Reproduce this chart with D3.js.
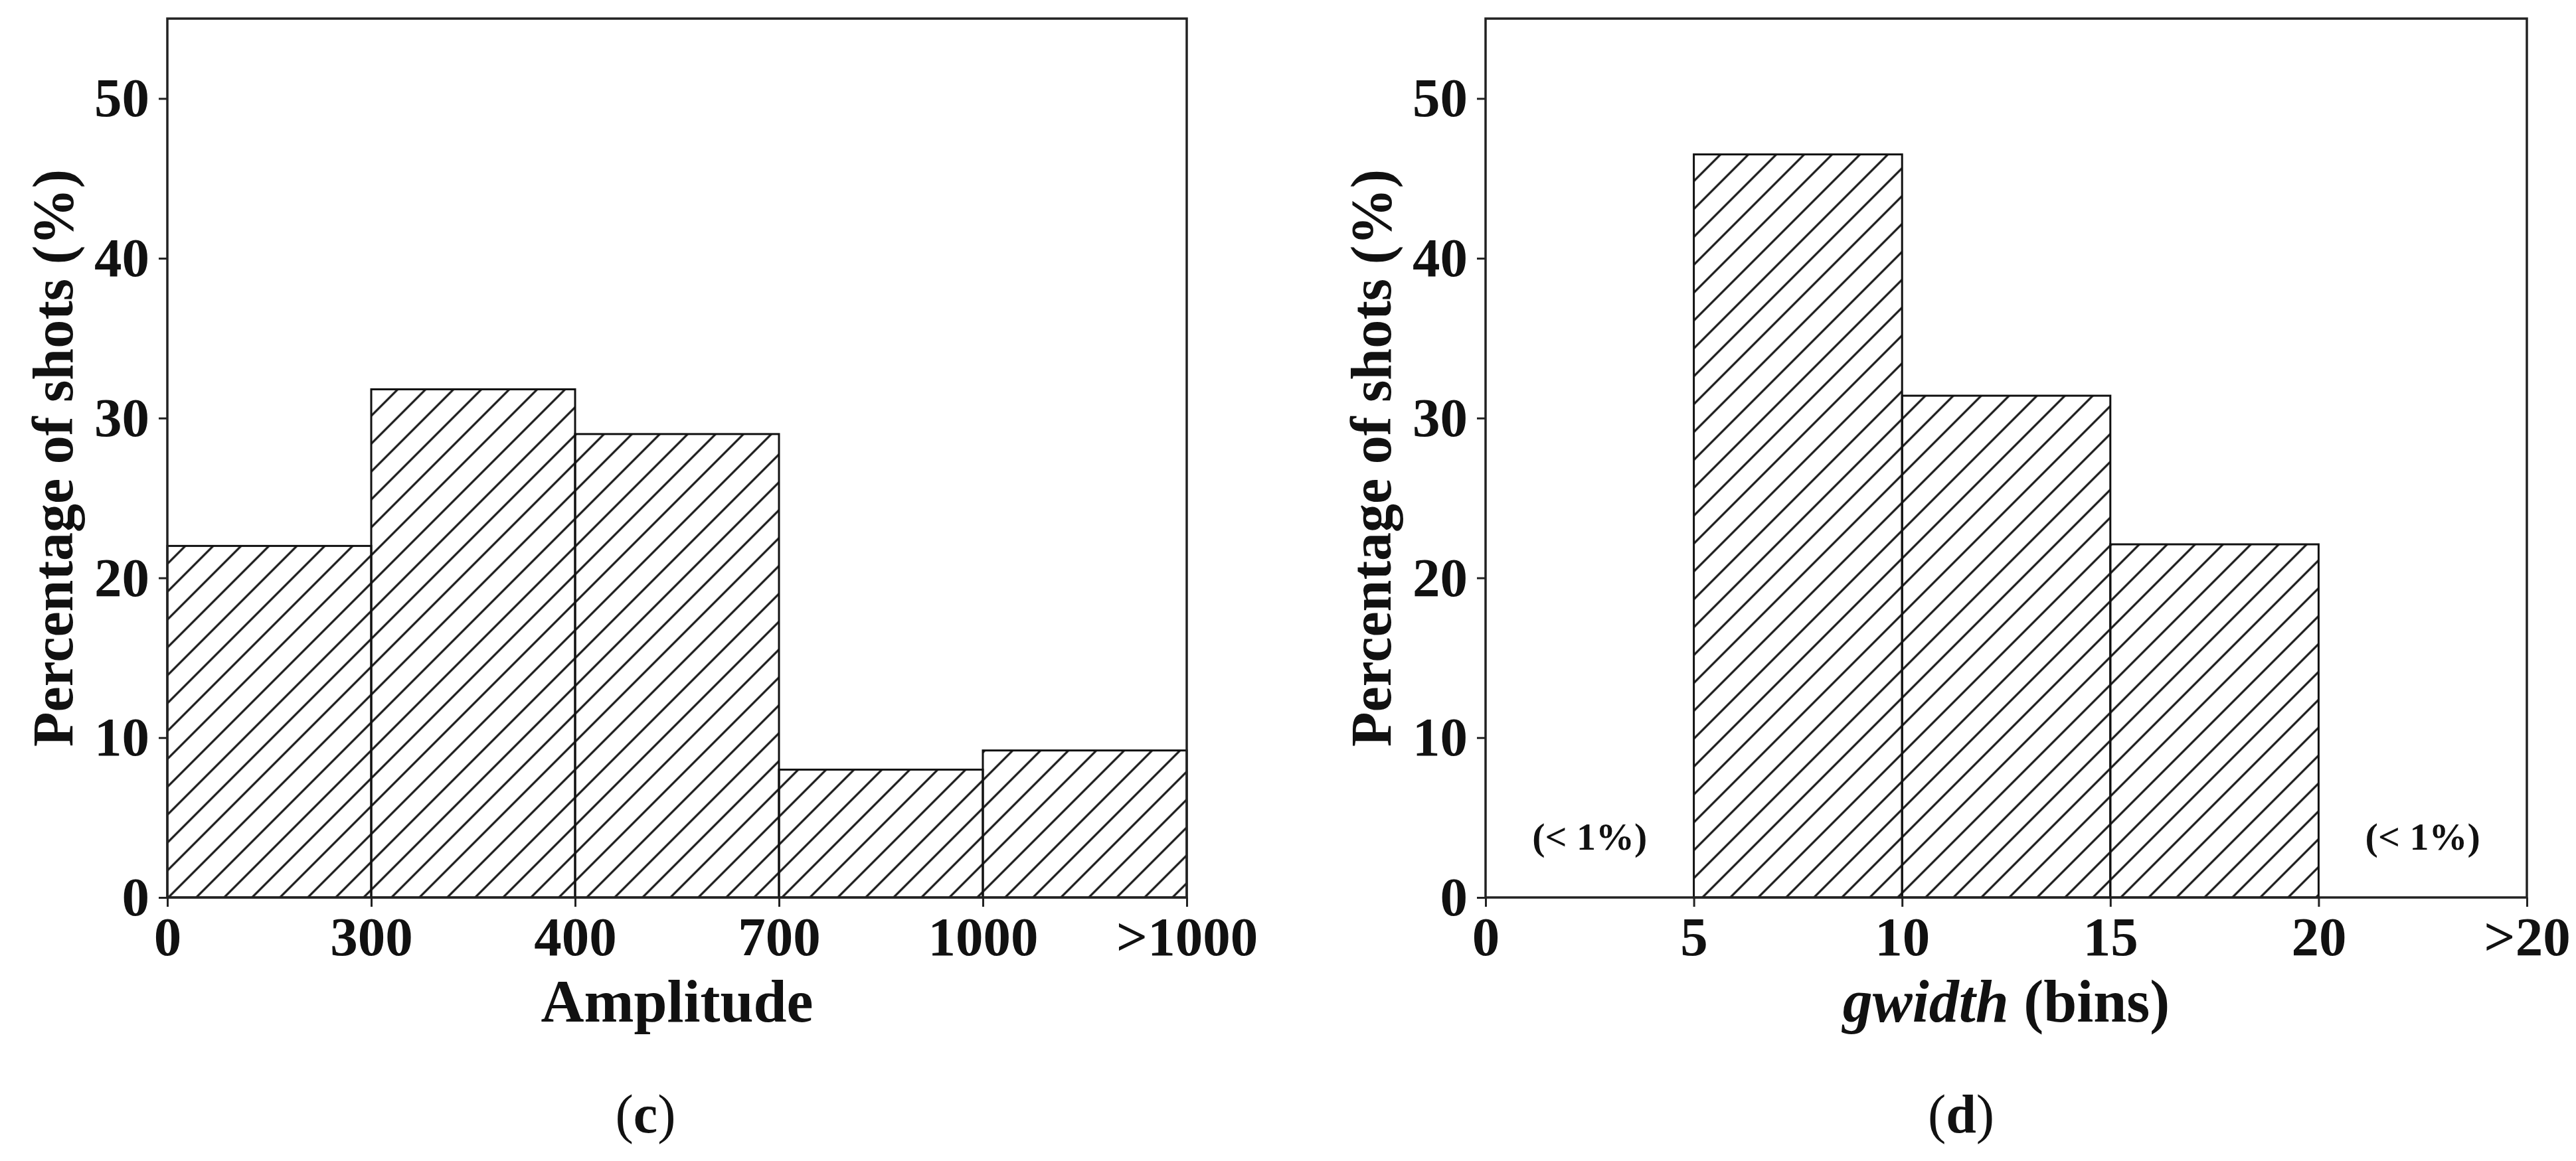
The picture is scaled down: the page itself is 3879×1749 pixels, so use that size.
<!DOCTYPE html>
<html>
<head>
<meta charset="utf-8">
<script src="https://cdn.jsdelivr.net/npm/d3@7"></script>
<style>
  body { margin: 0; background: #fff; }
  svg text { font-family: "Liberation Serif", "Times New Roman", serif; fill: #111; }
</style>
</head>
<body>
<svg id="chart"></svg>
<script>
// panel (c): amplitude histogram
const ampLabels = ['0', '300', '400', '700', '1000', '>1000'];
const ampValues = [22.0, 31.8, 29.0, 8.0, 9.2];

// panel (d): gwidth histogram
const gwLabels = ['0', '5', '10', '15', '20', '>20'];
const gwValues = [0, 46.5, 31.4, 22.1, 0];
const gwNotes = ['(< 1%)', null, null, null, '(< 1%)'];

const yTicks = [0, 10, 20, 30, 40, 50];
const yMax = 55;

const W = 3879, H = 1749;
const svg = d3.select('#chart')
  .attr('width', W)
  .attr('height', H)
  .attr('viewBox', `0 0 ${W} ${H}`);

svg.append('rect').attr('width', W).attr('height', H).attr('fill', '#fff');

// matplotlib style '/' hatch, fixed in page space
const pat = svg.append('defs').append('pattern')
  .attr('id', 'hatch')
  .attr('patternUnits', 'userSpaceOnUse')
  .attr('x', 9.5)
  .attr('width', 42)
  .attr('height', 42);
pat.append('path')
  .attr('d', 'M-10,10 L10,-10 M0,42 L42,0 M32,52 L52,32')
  .attr('stroke', '#1a1a1a')
  .attr('stroke-width', 3.2);

const plotTop = 28, plotBottom = 1352;

function drawPanel(opts) {
  const { x0, x1, labels, values, notes, ylabelX, tag, tagX } = opts;
  const g = svg.append('g');

  const x = d3.scaleLinear().domain([0, labels.length - 1]).range([x0, x1]);
  const y = d3.scaleLinear().domain([0, yMax]).range([plotBottom, plotTop]);

  g.selectAll('rect.bar')
    .data(values)
    .join('rect')
    .attr('class', 'bar')
    .attr('x', (d, i) => x(i))
    .attr('width', (d, i) => x(i + 1) - x(i))
    .attr('y', d => y(d))
    .attr('height', d => y(0) - y(d))
    .attr('fill', 'url(#hatch)')
    .attr('stroke', '#111')
    .attr('stroke-width', 3);

  if (notes) {
    g.selectAll('text.note')
      .data(notes.map((n, i) => ({ n, i })).filter(d => d.n))
      .join('text')
      .attr('class', 'note')
      .attr('x', d => x(d.i + 0.5))
      .attr('y', 1280)
      .attr('text-anchor', 'middle')
      .attr('font-size', 58)
      .attr('font-weight', 'bold')
      .text(d => d.n);
  }

  // frame
  g.append('rect')
    .attr('x', x0).attr('y', plotTop)
    .attr('width', x1 - x0).attr('height', plotBottom - plotTop)
    .attr('fill', 'none')
    .attr('stroke', '#222')
    .attr('stroke-width', 3.5);

  const yAxis = g.append('g')
    .attr('transform', `translate(${x0},0)`)
    .call(d3.axisLeft(y).tickValues(yTicks).tickSize(13).tickPadding(14));
  const xAxis = g.append('g')
    .attr('transform', `translate(0,${plotBottom})`)
    .call(d3.axisBottom(x).tickValues(d3.range(labels.length))
      .tickFormat(i => labels[i]).tickSize(14).tickPadding(14));

  [yAxis, xAxis].forEach(a => {
    a.select('.domain').remove();
    a.selectAll('line').attr('stroke', '#222').attr('stroke-width', 3);
    a.selectAll('text')
      .attr('font-size', 83)
      .attr('font-weight', 'bold')
      .attr('fill', '#111');
  });

  g.append('text')
    .attr('transform', `translate(${ylabelX},${(plotTop + plotBottom) / 2}) rotate(-90)`)
    .attr('text-anchor', 'middle')
    .attr('dominant-baseline', 'central')
    .attr('font-size', 86)
    .attr('font-weight', 'bold')
    .text('Percentage of shots (%)');

  const xl = g.append('text')
    .attr('x', (x0 + x1) / 2)
    .attr('y', 1539)
    .attr('text-anchor', 'middle')
    .attr('font-size', 90)
    .attr('font-weight', 'bold');
  opts.xlabel(xl);

  const t = g.append('text')
    .attr('x', tagX)
    .attr('y', 1706)
    .attr('text-anchor', 'middle')
    .attr('font-size', 82);
  t.append('tspan').text('(');
  t.append('tspan').attr('font-weight', 'bold').text(tag);
  t.append('tspan').text(')');
}

drawPanel({
  x0: 252, x1: 1787,
  labels: ampLabels, values: ampValues,
  ylabelX: 80, tag: 'c', tagX: 972,
  xlabel: t => t.text('Amplitude')
});

drawPanel({
  x0: 2237, x1: 3805,
  labels: gwLabels, values: gwValues, notes: gwNotes,
  ylabelX: 2065, tag: 'd', tagX: 2953,
  xlabel: t => {
    t.append('tspan').attr('font-style', 'italic').text('gwidth');
    t.append('tspan').text(' (bins)');
  }
});
</script>
</body>
</html>
